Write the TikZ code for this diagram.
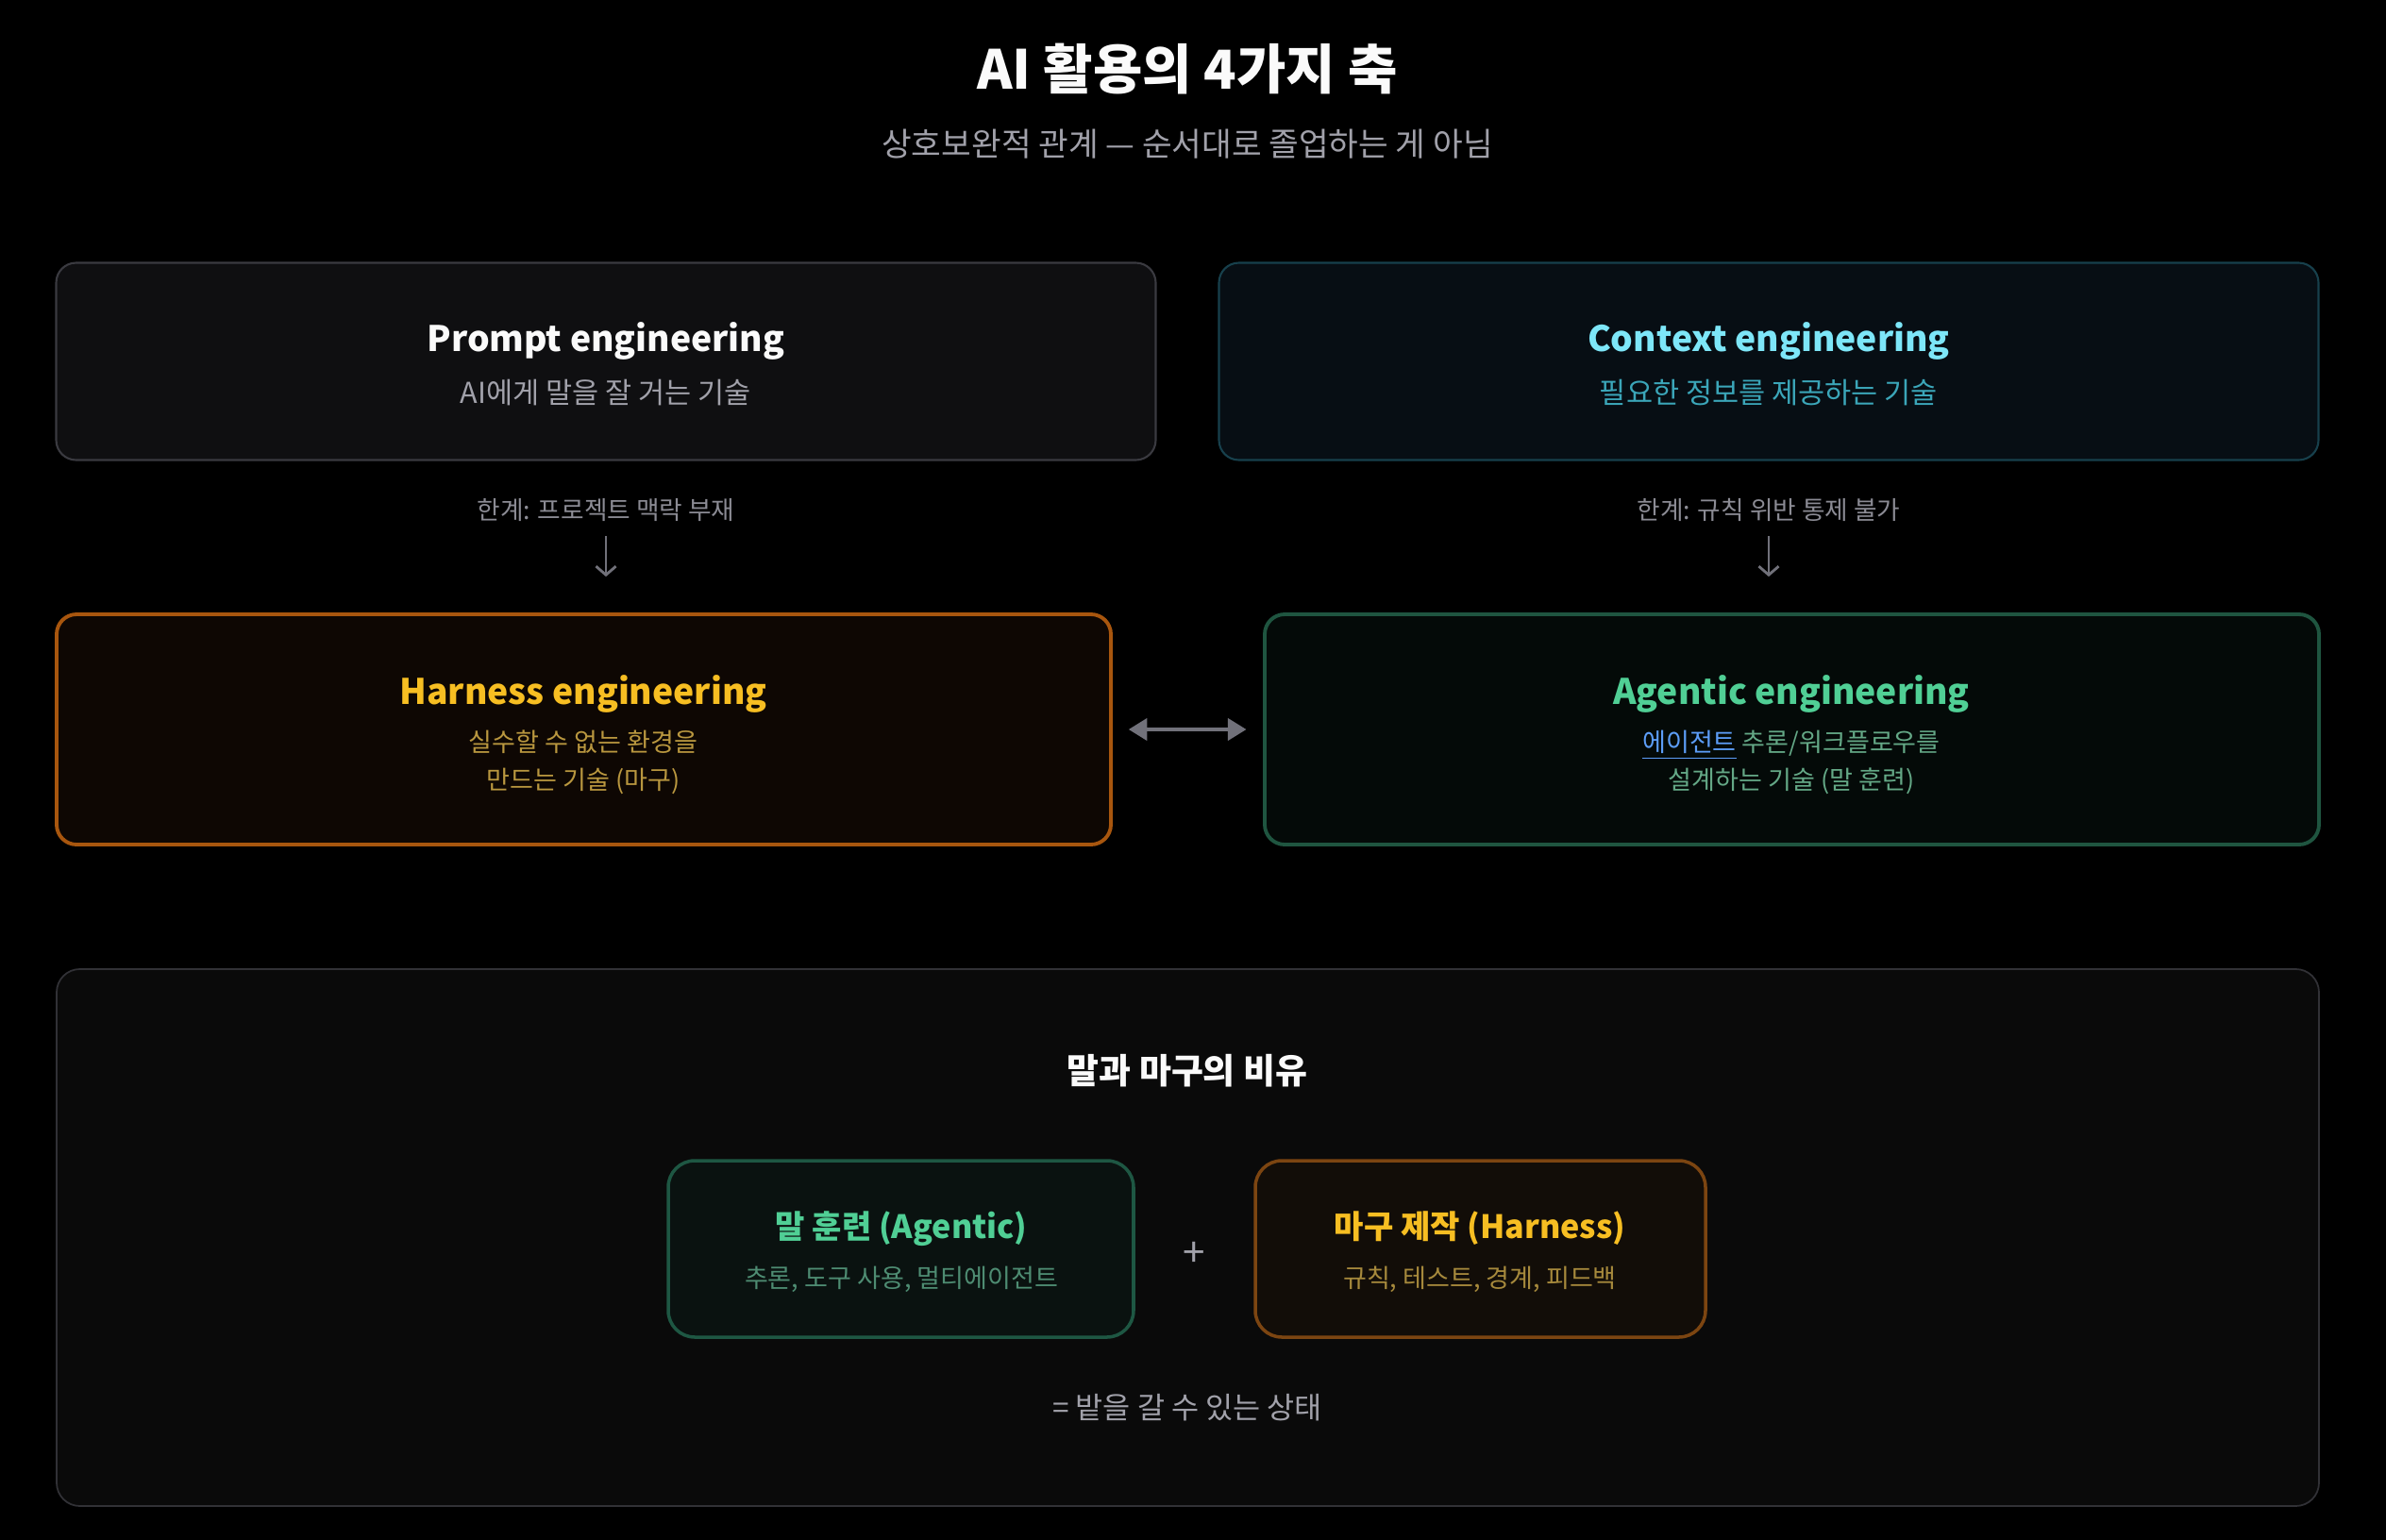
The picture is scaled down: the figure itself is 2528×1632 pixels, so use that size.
\documentclass[tikz,border=0pt]{standalone}
\usepackage{fontspec}
\setmainfont{Noto Sans CJK KR}
\usepackage{tikz}
\usetikzlibrary{arrows.meta,positioning}
\definecolor{txtmain}{HTML}{FAFAFA}
\definecolor{txtdim}{HTML}{A1A1AA}
\definecolor{txtlim}{HTML}{8B8B94}
\definecolor{arrgray}{HTML}{71717A}
\definecolor{pfill}{HTML}{0F0F11}
\definecolor{pline}{HTML}{3A3A40}
\definecolor{cfill}{HTML}{070E14}
\definecolor{cline}{HTML}{17404C}
\definecolor{ctitle}{HTML}{7DE6F8}
\definecolor{csub}{HTML}{3BA6B9}
\definecolor{hfill}{HTML}{0E0703}
\definecolor{hline}{HTML}{A8560E}
\definecolor{htitle}{HTML}{F7BE22}
\definecolor{hsub}{HTML}{B9973F}
\definecolor{afill}{HTML}{040A08}
\definecolor{aline}{HTML}{1F5540}
\definecolor{atitle}{HTML}{50CF95}
\definecolor{asub}{HTML}{64A886}
\definecolor{alink}{HTML}{5C9DF7}
\definecolor{panfill}{HTML}{0A0A0A}
\definecolor{panline}{HTML}{313136}
\definecolor{sgfill}{HTML}{0A1210}
\definecolor{sgline}{HTML}{1E5743}
\definecolor{sgsub}{HTML}{4E8C72}
\definecolor{shfill}{HTML}{120D08}
\definecolor{shline}{HTML}{7C4511}
\definecolor{shsub}{HTML}{A6893C}

\begin{document}
\begin{tikzpicture}[x=0.1mm, y=-0.1mm,
    card/.style={draw, rounded corners=6pt, line width=0.6pt,
                 minimum width=11.65cm, minimum height=2.09cm},
    bigcard/.style={draw, rounded corners=6pt, line width=1.1pt,
                    minimum width=11.17cm, minimum height=2.44cm},
    minicard/.style={draw, rounded corners=8pt, line width=1pt,
                     minimum height=1.87cm},
    panel/.style={draw=panline, fill=panfill, rounded corners=7pt,
                  line width=0.5pt, minimum width=23.97cm, minimum height=5.69cm},
    ttl/.style={font=\bfseries\fontsize{10.6}{13}\selectfont},
    sublbl/.style={font=\fontsize{8.7}{11.4}\selectfont, align=center},
    lowlbl/.style={font=\fontsize{7.7}{11.4}\selectfont, align=center},
    limlbl/.style={font=\fontsize{7.6}{9}\selectfont, text=txtlim},
    minittl/.style={font=\bfseries\fontsize{9.7}{12}\selectfont},
    minisub/.style={font=\fontsize{7.7}{10}\selectfont},
    downarr/.style={-{Straight Barb[length=2.6pt, width=6pt]}, line width=0.8pt,
                    draw=arrgray, shorten <=1pt, shorten >=10.8pt},
    duoarr/.style={{Triangle[length=5.6pt, width=6.6pt]}-{Triangle[length=5.6pt, width=6.6pt]},
                   line width=1.1pt, draw=arrgray, shorten <=4.8pt, shorten >=5pt},
  ]
    \fill[black] (0,0) rectangle (2528,1632);
    \useasboundingbox (0,0) rectangle (2528,1632);

    % Heading
    \node[font=\bfseries\fontsize{16.2}{20}\selectfont, text=txtmain] (title) at (1258,73)
      {AI 활용의 4가지 축};
    \node[font=\fontsize{9.8}{12}\selectfont, text=txtdim] (subtitle) at (1258,153)
      {상호보완적 관계 — 순서대로 졸업하는 게 아님};

    % Upper cards
    \node[card, draw=pline, fill=pfill] (prm) at (642,383) {};
    \node[ttl, text=txtmain] (prmT) at (642,361) {Prompt engineering};
    \node[sublbl, text=txtdim] (prmS) at (642,416) {AI에게 말을 잘 거는 기술};

    \node[card, draw=cline, fill=cfill] (ctx) at (1874,383) {};
    \node[ttl, text=ctitle] (ctxT) at (1874,361) {Context engineering};
    \node[sublbl, text=csub] (ctxS) at (1874,416) {필요한 정보를 제공하는 기술};

    % Limits
    \node[limlbl] (limP) at (642,540) {한계: 프로젝트 맥락 부재};
    \node[limlbl] (limC) at (1874,540) {한계: 규칙 위반 통제 불가};

    % Lower cards
    \node[bigcard, draw=hline, fill=hfill] (har) at (618.5,773) {};
    \node[ttl, text=htitle] (harT) at (618,735) {Harness engineering};
    \node[lowlbl, text=hsub] (harS) at (618,808)
      {실수할 수 없는 환경을\\만드는 기술 (마구)};

    \node[bigcard, draw=aline, fill=afill] (agt) at (1898.5,773) {};
    \node[ttl, text=atitle] (agtT) at (1898,735) {Agentic engineering};
    \node[lowlbl, text=asub] (agtS) at (1898,808)
      {\textcolor{alink}{\underline{에이전트}} 추론/워크플로우를\\설계하는 기술 (말 훈련)};

    \draw[downarr] (limP.south) -- (limP.south |- har.north);
    \draw[downarr] (limC.south) -- (limC.south |- agt.north);
    \draw[duoarr] (har.east) -- (agt.west);

    % Metaphor panel
    \node[panel] (pan) at (1258.5,1311.5) {};
    \node[font=\bfseries\fontsize{10.5}{12}\selectfont, text=txtmain] (panT) at (1258,1135)
      {말과 마구의 비유};

    \node[minicard, draw=sgline, fill=sgfill, minimum width=4.93cm] (horse) at (954.5,1323.5) {};
    \node[minittl, text=atitle] (horseT) at (955,1302) {말 훈련 (Agentic)};
    \node[minisub, text=sgsub] (horseS) at (955,1356) {추론, 도구 사용, 멀티에이전트};

    \node[font=\fontsize{12}{12}\selectfont, text=txtdim] (plus) at (1265,1329) {+};

    \node[minicard, draw=shline, fill=shfill, minimum width=4.77cm] (tack) at (1568.5,1323.5) {};
    \node[minittl, text=htitle] (tackT) at (1568,1302) {마구 제작 (Harness)};
    \node[minisub, text=shsub] (tackS) at (1568,1356) {규칙, 테스트, 경계, 피드백};

    \node[font=\fontsize{9}{11}\selectfont, text=txtdim] (result) at (1258,1492)
      {= 밭을 갈 수 있는 상태};
\end{tikzpicture}
\end{document}
